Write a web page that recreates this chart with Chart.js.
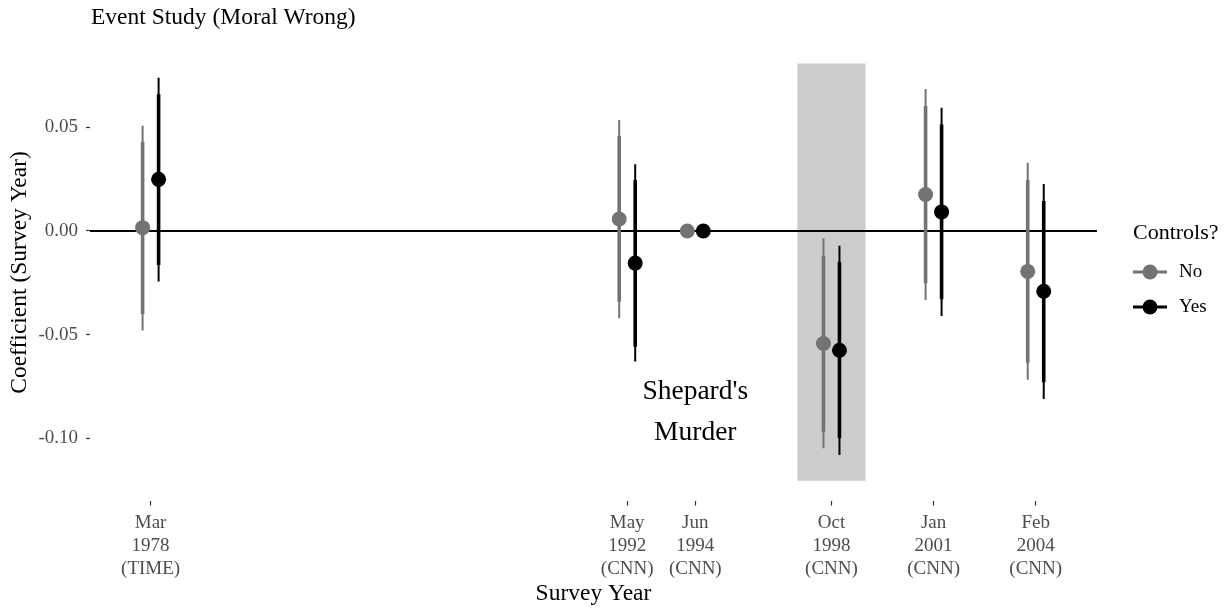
<!DOCTYPE html>
<html>
<head>
<meta charset="utf-8">
<script src="https://cdn.jsdelivr.net/npm/chart.js@4/dist/chart.umd.min.js"></script>
<style>
  html, body { margin: 0; padding: 0; background: #ffffff; }
  #wrap { position: relative; width: 1232px; height: 609px; }
</style>
</head>
<body>
<div id="wrap"><canvas id="c" width="1232" height="609"></canvas></div>
<script>
// Survey waves (x position = survey year) and their axis labels
const surveyYears = [1978, 1992, 1994, 1998, 2001, 2004];
const surveyLabels = [
  ["Mar", "1978", "(TIME)"],
  ["May", "1992", "(CNN)"],
  ["Jun", "1994", "(CNN)"],
  ["Oct", "1998", "(CNN)"],
  ["Jan", "2001", "(CNN)"],
  ["Feb", "2004", "(CNN)"]
];

// Coefficients without controls (1994 is the reference wave)
const estNo  = [0.0016, 0.0058, 0, -0.0543, 0.0176, -0.0195];
const lo95No = [-0.0480, -0.0421, null, -0.1048, -0.0333, -0.0718];
const hi95No = [0.0508, 0.0535, null, -0.0035, 0.0685, 0.0329];
const lo90No = [-0.0400, -0.0341, null, -0.0968, -0.0252, -0.0635];
const hi90No = [0.0431, 0.0458, null, -0.0119, 0.0603, 0.0246];

// Coefficients with controls
const estYes  = [0.0249, -0.0155, 0, -0.0575, 0.0092, -0.0291];
const lo95Yes = [-0.0244, -0.0630, null, -0.1080, -0.0410, -0.0811];
const hi95Yes = [0.0739, 0.0322, null, -0.0071, 0.0594, 0.0227];
const lo90Yes = [-0.0164, -0.0558, null, -0.1000, -0.0329, -0.0730];
const hi90Yes = [0.0659, 0.0246, null, -0.0151, 0.0514, 0.0145];

// Y axis ticks
const yTicks = [-0.10, -0.05, 0.00, 0.05];

// Shaded window around the event and its label
const eventYears = [1997, 1999];
const eventCoef = [-0.1205, 0.0808];
const eventText = ["Shepard's", "Murder"];
const eventTextAt = { x: 1994, y: -0.0876 };

const SERIF = "'Liberation Serif', 'Times New Roman', Times, serif";
const GREY = '#737373';
const BLACK = '#000000';
const DODGE = 0.235;

function segments(lo, hi, shift) {
  const pts = [];
  surveyYears.forEach((yr, i) => {
    if (lo[i] === null || hi[i] === null) return;
    pts.push({ x: yr + shift, y: lo[i] });
    pts.push({ x: yr + shift, y: hi[i] });
    pts.push({ x: yr + shift, y: null });
  });
  return pts;
}
function points(est, shift) {
  return surveyYears.map((yr, i) => ({ x: yr + shift, y: est[i] }));
}
function lineSet(data, color, width, order) {
  return { type: 'scatter', data, showLine: true, spanGaps: false, borderColor: color,
           borderWidth: width, borderCapStyle: 'butt', pointRadius: 0, pointHoverRadius: 0, order };
}
function pointSet(data, color, order) {
  return { type: 'scatter', data, showLine: false, backgroundColor: color, borderColor: color,
           borderWidth: 0, pointRadius: 7.5, pointHoverRadius: 7.5, order };
}

const decorations = {
  id: 'decorations',
  beforeDatasetsDraw(chart) {
    const { ctx, chartArea: a, scales: { x, y } } = chart;
    ctx.save();
    const x0 = x.getPixelForValue(eventYears[0]);
    const x1 = x.getPixelForValue(eventYears[1]);
    const y0 = y.getPixelForValue(eventCoef[1]);
    const y1 = y.getPixelForValue(eventCoef[0]);
    ctx.fillStyle = '#cccccc';
    ctx.fillRect(x0, y0, x1 - x0, y1 - y0);
    const yz = y.getPixelForValue(0);
    ctx.strokeStyle = '#000';
    ctx.lineWidth = 1.8;
    ctx.beginPath();
    ctx.moveTo(a.left, yz);
    ctx.lineTo(a.right, yz);
    ctx.stroke();
    ctx.restore();
  },
  afterDatasetsDraw(chart) {
    const { ctx, scales: { x, y } } = chart;
    ctx.save();
    ctx.fillStyle = '#000';
    ctx.font = '27.5px ' + SERIF;
    ctx.textAlign = 'center';
    ctx.textBaseline = 'middle';
    const cx = x.getPixelForValue(eventTextAt.x);
    const cy = y.getPixelForValue(eventTextAt.y);
    const lh = 41;
    eventText.forEach((t, i) => {
      ctx.fillText(t, cx, cy + (i - (eventText.length - 1) / 2) * lh);
    });
    ctx.restore();
  },
  afterDraw(chart) {
    const { ctx, chartArea: a } = chart;
    ctx.save();
    // plot title
    ctx.fillStyle = '#000';
    ctx.font = '23.5px ' + SERIF;
    ctx.textAlign = 'left';
    ctx.textBaseline = 'alphabetic';
    ctx.fillText('Event Study (Moral Wrong)', a.left + 1, 24);
    // legend
    const lx = a.right + 36;
    ctx.font = '22px ' + SERIF;
    ctx.textBaseline = 'middle';
    ctx.fillText('Controls?', lx, 233);
    const items = [{ label: 'No', color: GREY, y: 272 }, { label: 'Yes', color: BLACK, y: 307 }];
    items.forEach(it => {
      ctx.strokeStyle = it.color;
      ctx.lineWidth = 3;
      ctx.beginPath();
      ctx.moveTo(lx, it.y);
      ctx.lineTo(lx + 34, it.y);
      ctx.stroke();
      ctx.fillStyle = it.color;
      ctx.beginPath();
      ctx.arc(lx + 17, it.y, 7.5, 0, Math.PI * 2);
      ctx.fill();
      ctx.fillStyle = '#000';
      ctx.font = '19px ' + SERIF;
      ctx.fillText(it.label, lx + 46, it.y);
    });
    ctx.restore();
  }
};

new Chart(document.getElementById('c'), {
  type: 'scatter',
  data: {
    datasets: [
      pointSet(points(estYes, DODGE), BLACK, 0),
      lineSet(segments(lo90Yes, hi90Yes, DODGE), BLACK, 3.6, 1),
      lineSet(segments(lo95Yes, hi95Yes, DODGE), BLACK, 2, 2),
      pointSet(points(estNo, -DODGE), GREY, 3),
      lineSet(segments(lo90No, hi90No, -DODGE), GREY, 3.6, 4),
      lineSet(segments(lo95No, hi95No, -DODGE), GREY, 2, 5)
    ]
  },
  options: {
    responsive: false,
    animation: false,
    devicePixelRatio: 1,
    layout: { padding: { top: 44.4, right: 135, left: 0, bottom: 0 } },
    plugins: { legend: { display: false }, tooltip: { enabled: false }, title: { display: false } },
    scales: {
      x: {
        type: 'linear',
        min: 1976.22,
        max: 2005.8,
        afterBuildTicks: s => { s.ticks = surveyYears.map(v => ({ value: v })); },
        afterFit: s => { s.height = 108.5; },
        ticks: {
          autoSkip: false, maxRotation: 0, minRotation: 0, padding: 6,
          color: '#4d4d4d',
          font: { family: SERIF, size: 19, lineHeight: 1.21 },
          callback: v => surveyLabels[surveyYears.indexOf(v)] || ''
        },
        grid: { drawOnChartArea: false, drawTicks: true, tickLength: 5, tickColor: '#333333', tickWidth: 1.2 },
        border: { display: false },
        title: { display: true, text: 'Survey Year', color: '#000', font: { family: SERIF, size: 23.5 }, padding: { top: 0, bottom: 1 } }
      },
      y: {
        type: 'linear',
        min: -0.13,
        max: 0.09,
        afterBuildTicks: s => { s.ticks = yTicks.map(v => ({ value: v })); },
        afterFit: s => { s.width = 90; },
        ticks: {
          padding: 8,
          color: '#4d4d4d',
          font: { family: SERIF, size: 19 },
          callback: v => v.toFixed(2)
        },
        grid: { drawOnChartArea: false, drawTicks: true, tickLength: 4, tickColor: '#333333', tickWidth: 1.2 },
        border: { display: false },
        title: { display: true, text: 'Coefficient (Survey Year)', color: '#000', font: { family: SERIF, size: 23.5 }, padding: { top: 6, bottom: 0 } }
      }
    }
  },
  plugins: [decorations]
});
</script>
</body>
</html>
